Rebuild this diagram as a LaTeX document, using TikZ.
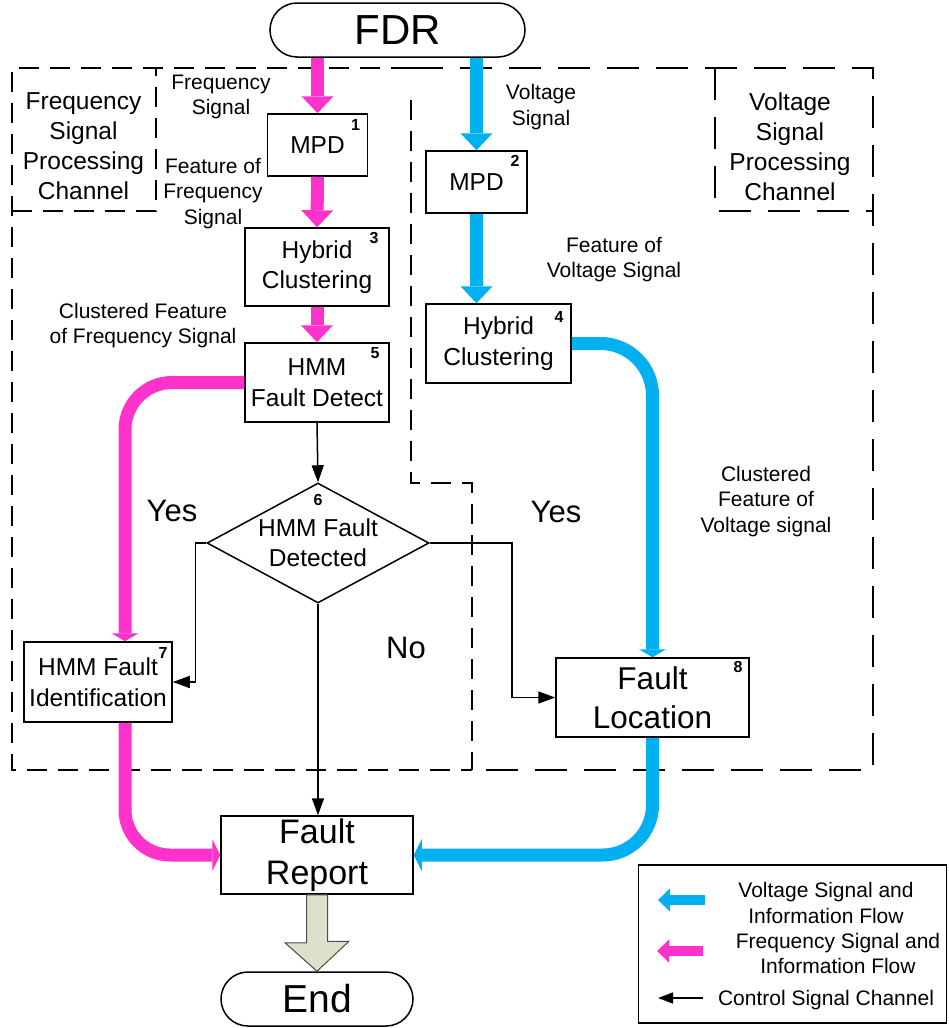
\documentclass[tikz,border=0pt]{standalone}
\usepackage{fontspec}
\setmainfont{Liberation Sans}
\usetikzlibrary{arrows.meta, shapes.geometric}
\definecolor{fmagenta}{HTML}{FF33CC}
\definecolor{vblue}{HTML}{00B0F0}
\definecolor{endgray}{HTML}{DDE1CC}

\begin{document}
\begin{tikzpicture}[
  x=1pt, y=1pt,
  box/.style={draw, line width=1.5pt, align=center, inner sep=0pt,
    font=\fontsize{24.5}{30.5}\selectfont},
  term/.style={box, rounded corners=27pt},
  dec/.style={diamond, draw, line width=1.5pt, align=center, inner sep=0pt, aspect=1.85,
    minimum width=222pt, minimum height=120pt, font=\fontsize{24.5}{30}\selectfont},
  num/.style={font=\bfseries\fontsize{16}{18}\selectfont, inner sep=0pt, anchor=north east},
  lbl/.style={align=center, inner sep=0pt, font=\fontsize{21}{25.5}\selectfont},
  chan/.style={align=center, inner sep=0pt, font=\fontsize{24.5}{30}\selectfont},
  big/.style={inner sep=0pt, font=\fontsize{31}{37}\selectfont},
  fchan/.style={dash pattern=on 20pt off 11pt, line width=1.6pt},
  vchan/.style={dash pattern=on 32pt off 17pt, line width=1.6pt},
  farr/.style={fmagenta, line width=13pt, -{Triangle[width=32pt, length=17pt, line width=0pt]}},
  varr/.style={vblue, line width=13pt, -{Triangle[width=32pt, length=17pt, line width=0pt]}},
  lowtip/.style={-{Triangle[width=#1, length=8pt, line width=0pt]}},
  lowtip/.default=27pt,
  carr/.style={-{Triangle[width=12pt, length=17pt]}, line width=1.5pt},
  endarr/.style={draw=black!70, line width=1pt, fill=endgray}
]
\useasboundingbox (0,0) rectangle (948,-1028);

% channel regions
\draw[fchan] (411,-68) -- (12,-68) -- (12,-770) -- (472,-770);
\draw[fchan] (411,-100) -- (411,-483) -- (472,-483) -- (472,-770);
\draw[fchan] (12,-211) -- (156,-211) -- (156,-68);
\draw[vchan] (411,-68) -- (873,-68) -- (873,-770) -- (472,-770);
\draw[vchan] (715,-68) -- (715,-211) -- (873,-211);
\node[chan] at (83.5,-146.5) {Frequency\\Signal\\Processing\\Channel};
\node[chan] at (790,-146.5) {Voltage\\Signal\\Processing\\Channel};

% blocks
\node[term, minimum width=255pt, minimum height=54pt, font=\fontsize{42}{50}\selectfont] (fdr) at (397.5,-30) {FDR};
\node[box, minimum width=100pt, minimum height=62pt] (mpdf) at (317.5,-145) {MPD};
\node[box, minimum width=144pt, minimum height=78pt] (hcf) at (317,-267) {Hybrid\\Clustering};
\node[box, minimum width=144pt, minimum height=79pt] (hmmd) at (317,-382.5) {HMM\\Fault Detect};
\node[dec] (hmmq) at (318,-543) {HMM Fault\\Detected};
\node[box, minimum width=148pt, minimum height=80pt] (hmmi) at (98,-682) {HMM Fault\\Identification};
\node[box, minimum width=101pt, minimum height=62pt] (mpdv) at (476.5,-182) {MPD};
\node[box, minimum width=145pt, minimum height=79pt] (hcv) at (498.5,-343.5) {Hybrid\\Clustering};
\node[box, minimum width=193pt, minimum height=79pt, font=\fontsize{31.5}{39.5}\selectfont] (floc) at (652.5,-697.5) {Fault\\Location};
\node[box, minimum width=192pt, minimum height=78pt, font=\fontsize{34}{41}\selectfont] (frep) at (317,-855) {Fault\\Report};
\node[term, minimum width=192pt, minimum height=54pt, font=\fontsize{39}{46}\selectfont] (fend) at (317,-999) {End};

% block numbers
\node[num] at ([xshift=-8pt,yshift=-6pt]mpdf.north east) {1};
\node[num] at ([xshift=-8pt,yshift=-5pt]mpdv.north east) {2};
\node[num] at ([xshift=-11pt,yshift=-5pt]hcf.north east) {3};
\node[num] at ([xshift=-8pt,yshift=-8pt]hcv.north east) {4};
\node[num] at ([xshift=-10pt,yshift=-5pt]hmmd.north east) {5};
\node[num, anchor=north] at ([yshift=-12pt]hmmq.north) {6};
\node[num] at ([xshift=-5pt,yshift=-6pt]hmmi.north east) {7};
\node[num] at ([xshift=-7pt,yshift=-4pt]floc.north east) {8};

% signal labels
\node[lbl] at (221,-97) {Frequency\\Signal};
\node[lbl] at (213,-193.5) {Feature of\\Frequency\\Signal};
\node[lbl] at (143,-325.5) {Clustered Feature\\of Frequency Signal};
\node[lbl] at (541,-107) {Voltage\\Signal};
\node[lbl] at (614,-259.5) {Feature of\\Voltage Signal};
\node[lbl] at (766,-501.5) {Clustered\\Feature of\\Voltage signal};
\node[big] at (172,-511) {Yes};
\node[big] at (556,-512) {Yes};
\node[big] at (406,-648) {No};

% frequency flow
\draw[farr] (mpdf.north |- fdr.south) -- (mpdf.north);
\draw[farr] (mpdf.south) -- (hcf.north);
\draw[farr] (hcf.south) -- (hmmd.north);
\draw[farr, lowtip, rounded corners=47pt] (hmmd.west) -| ([xshift=27pt]hmmi.north);
\draw[farr, lowtip=32pt, rounded corners=45pt] ([xshift=27pt]hmmi.south) |- (frep.west);

% voltage flow
\draw[varr] (mpdv.north |- fdr.south) -- (mpdv.north);
\draw[varr] (mpdv.south) -- (mpdv.south |- hcv.north);
\draw[varr, lowtip, rounded corners=52pt] (hcv.east) -| (floc.north);
\draw[varr, lowtip=32pt, rounded corners=50pt] (floc.south) |- (frep.east);

% control flow
\draw[carr] (hmmd.south) -- (hmmq.north);
\draw[carr] (hmmq.west) -- ++(-11,0) |- (hmmi.east);
\draw[carr] (hmmq.east) -- ++(82,0) |- (floc.west);
\draw[carr] (hmmq.south) -- (hmmq.south |- frep.north);
\draw[endarr] ([xshift=-10.5pt]frep.south) -- ++(0,-48) -- ++(-21.5,0) -- (fend.north)
  -- ++(32,30) -- ++(-21.5,0) -- ([xshift=10.5pt]frep.south) -- cycle;

% legend
\node[draw, line width=1.5pt, inner sep=0pt, minimum width=308pt, minimum height=158pt] (key) at (792.5,-944) {};
\draw[vblue, line width=10pt, -{Triangle[width=23pt, length=12pt, line width=0pt]}] (705,-900) -- (658,-900);
\draw[fmagenta, line width=10pt, -{Triangle[width=23pt, length=12pt, line width=0pt]}] (703,-951) -- (657,-951);
\draw[carr, -{Triangle[width=11pt, length=15pt]}] (703,-998) -- (658,-998);
\node[lbl] at (826,-903) {Voltage Signal and\\Information Flow};
\node[lbl] at (838,-953.5) {Frequency Signal and\\Information Flow};
\node[lbl] at (826,-1000) {Control Signal Channel};
\end{tikzpicture}
\end{document}
